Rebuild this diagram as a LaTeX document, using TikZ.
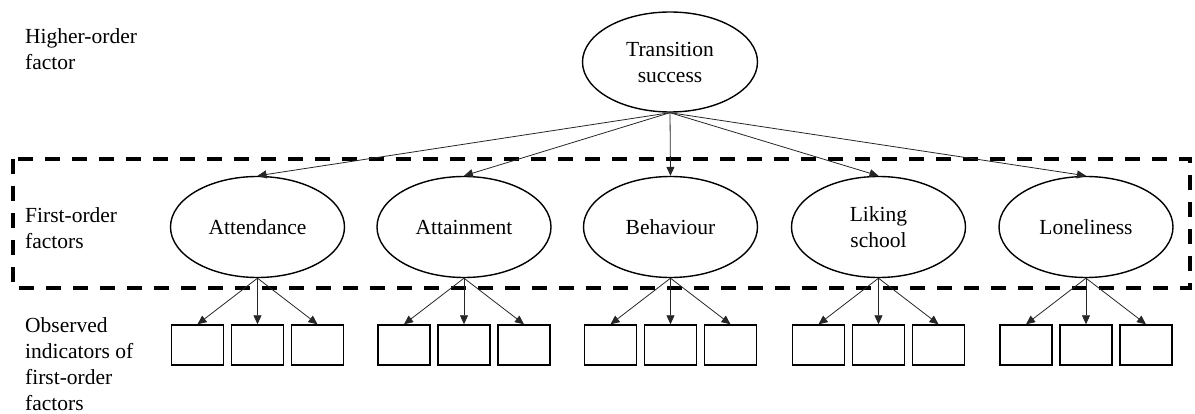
\documentclass[tikz,border=0pt]{standalone}
\usepackage{fontspec}
\setmainfont{Liberation Serif}
\newfontfamily\tnrfont{Liberation Serif}
\usetikzlibrary{shapes.geometric,arrows.meta}
\begin{document}
\begin{tikzpicture}[x=1pt,y=-1pt,
  every node/.style={font=\tnrfont\fontsize{21.5}{26}\selectfont},
  factor/.style={draw,ellipse,line width=1.4pt,minimum width=174pt,minimum height=101pt,inner sep=0pt,align=center},
  indicator/.style={draw,rectangle,line width=1.4pt,minimum width=52pt,minimum height=40pt,inner sep=0pt},
  link/.style={line width=0.8pt,draw=black!85,-{Triangle[length=9pt,width=8pt]}},
  label/.style={anchor=base west,align=left,inner sep=0pt},
  groupbox/.style={line width=4pt,dash pattern=on 15pt off 12pt}
]
\useasboundingbox (0,0) rectangle (1195,414);
\draw[groupbox] (13,159) rectangle (1190,288);

\node[label] (lh) at (25,70) {Higher-order\\factor};
\node[label] (lf) at (25,249) {First-order\\factors};
\node[label] (lo) at (25,410) {Observed\\indicators of\\first-order\\factors};

\node[factor,minimum width=175pt,minimum height=100pt] (T) at (670,62) {Transition\\success};
\node[factor] (F1) at (257.5,227) {Attendance};
\node[factor] (F2) at (464,227) {Attainment};
\node[factor] (F3) at (670.5,227) {Behaviour};
\node[factor] (F4) at (878.5,227) {Liking\\school};
\node[factor] (F5) at (1086,227) {Loneliness};

\foreach \i in {1,...,5} {
  \draw[link] (T.south) -- (F\i.north);
  \node[indicator] (B\i a) at ([xshift=-60pt,yshift=-118pt]F\i.center) {};
  \node[indicator] (B\i b) at ([yshift=-118pt]F\i.center) {};
  \node[indicator] (B\i c) at ([xshift=60pt,yshift=-118pt]F\i.center) {};
  \draw[link] (F\i.south) -- (B\i a.north);
  \draw[link] (F\i.south) -- (B\i b.north);
  \draw[link] (F\i.south) -- (B\i c.north);
}
\end{tikzpicture}
\end{document}
